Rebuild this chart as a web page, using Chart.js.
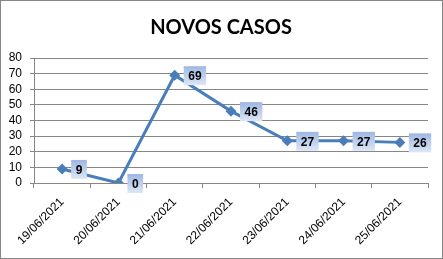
<!DOCTYPE html>
<html>
<head>
<meta charset="utf-8">
<script src="https://cdn.jsdelivr.net/npm/chart.js@4/dist/chart.umd.min.js"></script>
<style>
  body { margin: 0; background: #fff; }
  #wrap { width: 443px; height: 259px; }
</style>
</head>
<body>
<div id="wrap"><canvas id="casos" width="443" height="259"></canvas></div>
<script>
const dias = ['19/06/2021', '20/06/2021', '21/06/2021', '22/06/2021', '23/06/2021', '24/06/2021', '25/06/2021'];
const novosCasos = [9, 0, 69, 46, 27, 27, 26];
const yTicks = [0, 10, 20, 30, 40, 50, 60, 70, 80];

const grayLine = '#868686';

// gray frame round the whole picture
const frame = {
  id: 'frame',
  beforeDraw(chart) {
    const c = chart.ctx;
    c.save();
    c.fillStyle = '#fff';
    c.fillRect(0, 0, chart.width, chart.height);
    c.strokeStyle = grayLine;
    c.lineWidth = 1;
    c.strokeRect(0.5, 0.5, chart.width - 1, chart.height - 1);
    c.restore();
  }
};

// boxed value labels, right of each point
const valueBoxes = {
  id: 'valueBoxes',
  afterDatasetsDraw(chart) {
    const c = chart.ctx;
    const meta = chart.getDatasetMeta(0);
    c.save();
    c.font = 'bold 12px "Liberation Sans", Arial, sans-serif';
    c.textBaseline = 'middle';
    meta.data.forEach((pt, i) => {
      const txt = String(novosCasos[i]);
      const w = c.measureText(txt).width + 9;
      const h = 19;
      const x = pt.x + 9;
      const y = pt.y - 9;
      const g = c.createLinearGradient(0, y, 0, y + h);
      g.addColorStop(0, '#9db7e3');
      g.addColorStop(1, '#dde6f5');
      c.fillStyle = g;
      c.fillRect(x, y, w, h);
      c.fillStyle = '#000';
      c.textAlign = 'center';
      c.fillText(txt, x + w / 2, y + h / 2 + 1);
    });
    c.restore();
  }
};

new Chart(document.getElementById('casos'), {
  type: 'line',
  data: {
    labels: dias,
    datasets: [{
      data: novosCasos,
      borderColor: '#4a7ebb',
      backgroundColor: '#4a7ebb',
      borderWidth: 3,
      pointStyle: 'rectRot',
      pointRadius: 5.5,
      pointBorderWidth: 0,
      tension: 0
    }]
  },
  options: {
    responsive: false,
    animation: false,
    layout: { padding: { left: 7, right: 8, top: 0, bottom: 0 } },
    plugins: {
      legend: { display: false },
      tooltip: { enabled: false },
      title: {
        display: true,
        text: 'NOVOS CASOS',
        color: '#000',
        font: { family: 'Lato', size: 20, weight: 'bold' },
        padding: { top: 16, bottom: 18 }
      }
    },
    scales: {
      x: {
        offset: true,
        grid: { offset: true, drawOnChartArea: false, color: grayLine, tickLength: 5 },
        border: { color: grayLine },
        ticks: {
          minRotation: 45, maxRotation: 45,
          autoSkip: false,
          padding: 7,
          color: '#000',
          font: { family: '"Liberation Sans", Arial, sans-serif', size: 12 }
        },
        afterFit(s) { s.height = 76; }
      },
      y: {
        min: 0, max: 80,
        afterBuildTicks(s) { s.ticks = yTicks.map(v => ({ value: v })); },
        grid: { color: grayLine, tickLength: 4 },
        border: { color: grayLine },
        ticks: {
          autoSkip: false,
          color: '#000',
          padding: 8,
          font: { family: '"Liberation Sans", Arial, sans-serif', size: 12 }
        },
        afterFit(s) { s.width = 27; }
      },
      // empty strip on the right so the plot stops short of the frame
      spacer: {
        position: 'right',
        min: 0, max: 80,
        grid: { display: false },
        border: { display: false },
        ticks: { display: false },
        afterFit(s) { s.width = 7; }
      }
    }
  },
  plugins: [frame, valueBoxes]
});
</script>
</body>
</html>
